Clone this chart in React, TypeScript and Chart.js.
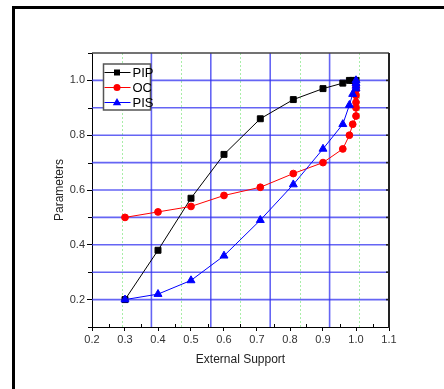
import React, { useEffect, useRef } from 'react';
import { Chart, registerables } from 'chart.js';
Chart.register(...registerables);

const seriesNames = ['PIP', 'OC', 'PIS'];
const seriesColors = ['#000000', '#ff0000', '#0000ff'];
const seriesStyles = ['rect', 'circle', 'triangle'];

const pipX = [0.3, 0.4, 0.5, 0.6, 0.71, 0.81, 0.9, 0.96, 0.98, 0.99, 1.0];
const pipY = [0.2, 0.38, 0.57, 0.73, 0.86, 0.93, 0.97, 0.99, 1.0, 1.0, 1.0];
const ocX = [0.3, 0.4, 0.5, 0.6, 0.71, 0.81, 0.9, 0.96, 0.98, 0.99, 1.0, 1.0, 1.0, 1.0, 1.0, 1.0];
const ocY = [0.5, 0.52, 0.54, 0.58, 0.61, 0.66, 0.7, 0.75, 0.8, 0.84, 0.87, 0.9, 0.92, 0.945, 0.965, 0.98];
const pisX = [0.3, 0.4, 0.5, 0.6, 0.71, 0.81, 0.9, 0.96, 0.98, 0.99, 1.0, 1.0, 1.0, 1.0];
const pisY = [0.2, 0.22, 0.27, 0.36, 0.49, 0.62, 0.75, 0.84, 0.91, 0.95, 0.97, 0.98, 0.99, 1.0];

const xTickValues = [0.2, 0.3, 0.4, 0.5, 0.6, 0.7, 0.8, 0.9, 1.0, 1.1];
const xTickLabels = ['0.2', '0.3', '0.4', '0.5', '0.6', '0.7', '0.8', '0.9', '1.0', '1.1'];
const xMinorTicks = [0.25, 0.35, 0.45, 0.55, 0.65, 0.75, 0.85, 0.95, 1.05];
const yTickValues = [0.2, 0.4, 0.6, 0.8, 1.0];
const yTickLabels = ['0.2', '0.4', '0.6', '0.8', '1.0'];
const yMinorTicks = [0.1, 0.3, 0.5, 0.7, 0.9, 1.1];

const xMajorGrid = [0.38, 0.56, 0.74, 0.92];
const xMinorGrid = [0.29, 0.47, 0.65, 0.83, 1.01];
const yGrid = [0.2, 0.3, 0.4, 0.5, 0.6, 0.7, 0.8, 0.9, 1.0];

const FONT = "'Liberation Sans', Arial, sans-serif";

const toPts = (xs: number[], ys: number[]) => xs.map((x, i) => ({ x, y: ys[i] }));

function drawMarker(ctx: CanvasRenderingContext2D, style: string, x: number, y: number, color: string) {
  ctx.save();
  ctx.fillStyle = color;
  ctx.beginPath();
  if (style === 'rect') {
    ctx.rect(x - 3, y - 3, 6, 6);
  } else if (style === 'circle') {
    ctx.arc(x, y, 3.5, 0, Math.PI * 2);
  } else {
    ctx.moveTo(x, y - 4.5);
    ctx.lineTo(x + 4.2, y + 2.8);
    ctx.lineTo(x - 4.2, y + 2.8);
    ctx.closePath();
  }
  ctx.fill();
  ctx.restore();
}

const decorPlugin = {
  id: 'decor',
  beforeDatasetsDraw(chart: any) {
    const ctx = chart.ctx as CanvasRenderingContext2D;
    const xs = chart.scales.x;
    const ys = chart.scales.y;
    const a = chart.chartArea;
    ctx.save();
    // minor vertical grid (green dotted)
    ctx.strokeStyle = '#a8eea8';
    ctx.lineWidth = 1;
    ctx.setLineDash([2, 2]);
    xMinorGrid.forEach((v) => {
      const px = Math.round(xs.getPixelForValue(v)) + 0.5;
      ctx.beginPath();
      ctx.moveTo(px, a.top);
      ctx.lineTo(px, a.bottom);
      ctx.stroke();
    });
    ctx.setLineDash([]);
    // major vertical grid
    ctx.strokeStyle = 'rgba(50,50,240,0.75)';
    ctx.lineWidth = 1.6;
    xMajorGrid.forEach((v) => {
      const px = xs.getPixelForValue(v);
      ctx.beginPath();
      ctx.moveTo(px, a.top);
      ctx.lineTo(px, a.bottom);
      ctx.stroke();
    });
    // horizontal grid
    yGrid.forEach((v) => {
      const py = ys.getPixelForValue(v);
      ctx.beginPath();
      ctx.moveTo(a.left, py);
      ctx.lineTo(a.right, py);
      ctx.stroke();
    });
    // top & right frame
    ctx.strokeStyle = '#444';
    ctx.lineWidth = 1.5;
    ctx.beginPath();
    ctx.moveTo(a.left, a.top);
    ctx.lineTo(a.right, a.top);
    ctx.stroke();
    ctx.strokeStyle = '#222';
    ctx.lineWidth = 2;
    ctx.beginPath();
    ctx.moveTo(a.right, a.top);
    ctx.lineTo(a.right, a.bottom + 1);
    ctx.stroke();
    // right inward ticks
    ctx.lineWidth = 1.5;
    yGrid.forEach((v) => {
      const py = ys.getPixelForValue(v);
      ctx.beginPath();
      ctx.moveTo(a.right - 3, py);
      ctx.lineTo(a.right, py);
      ctx.stroke();
    });
    // minor ticks
    ctx.strokeStyle = '#000';
    ctx.lineWidth = 1;
    xMinorTicks.forEach((v) => {
      const px = Math.round(xs.getPixelForValue(v)) + 0.5;
      ctx.beginPath();
      ctx.moveTo(px, a.bottom);
      ctx.lineTo(px, a.bottom - 3);
      ctx.stroke();
    });
    yMinorTicks.forEach((v) => {
      const py = Math.round(ys.getPixelForValue(v)) + 0.5;
      ctx.beginPath();
      ctx.moveTo(a.left, py);
      ctx.lineTo(a.left - 4, py);
      ctx.stroke();
    });
    ctx.restore();
  },
  afterDatasetsDraw(chart: any) {
    const ctx = chart.ctx as CanvasRenderingContext2D;
    const a = chart.chartArea;
    const bx = a.left + 11.5;
    const by = a.top + 11;
    const bw = 47;
    const bh = 46;
    ctx.save();
    ctx.fillStyle = '#fff';
    ctx.fillRect(bx, by, bw, bh);
    ctx.strokeStyle = '#555';
    ctx.lineWidth = 1.5;
    ctx.strokeRect(bx, by, bw, bh);
    seriesNames.forEach((name, i) => {
      const y = by + 8.5 + i * 15;
      ctx.strokeStyle = seriesColors[i];
      ctx.lineWidth = 1;
      ctx.beginPath();
      ctx.moveTo(bx + 1, y);
      ctx.lineTo(bx + 27, y);
      ctx.stroke();
      drawMarker(ctx, seriesStyles[i], bx + 13.5, y, seriesColors[i]);
      ctx.fillStyle = '#000';
      ctx.font = `13px ${FONT}`;
      ctx.textBaseline = 'middle';
      ctx.textAlign = 'left';
      ctx.fillText(name, bx + 29, y + 0.5);
    });
    ctx.restore();
  },
};

export default function App() {
  const ref = useRef<HTMLCanvasElement>(null);
  useEffect(() => {
    const mk = (i: number, data: any[], radius: number, order: number) => ({
      label: seriesNames[i],
      data,
      borderColor: seriesColors[i],
      backgroundColor: seriesColors[i],
      pointBackgroundColor: seriesColors[i],
      pointBorderColor: seriesColors[i],
      pointStyle: seriesStyles[i],
      pointRadius: radius,
      pointBorderWidth: 1,
      borderWidth: 1,
      showLine: true,
      tension: 0,
      order,
    });
    const chart = new Chart(ref.current!, {
      type: 'scatter',
      data: {
        datasets: [
          mk(0, toPts(pipX, pipY), 4.2, 2),
          mk(1, toPts(ocX, ocY), 3.4, 1),
          mk(2, toPts(pisX, pisY), 4.6, 0),
        ] as any,
      },
      options: {
        animation: false,
        responsive: false,
        events: [],
        layout: { padding: { left: 0, top: 53, right: 55, bottom: 0 } },
        plugins: { legend: { display: false }, tooltip: { enabled: false } },
        scales: {
          x: {
            type: 'linear',
            position: 'bottom',
            min: 0.2,
            max: 1.1,
            afterBuildTicks: (s: any) => {
              s.ticks = xTickValues.map((v) => ({ value: v }));
            },
            afterFit: (s: any) => {
              s.height = 62;
            },
            ticks: {
              callback: (_v: any, i: number) => xTickLabels[i],
              font: { family: FONT, size: 11 },
              color: '#333',
              padding: 2,
              maxRotation: 0,
              autoSkip: false,
            },
            grid: { drawOnChartArea: false, drawTicks: true, tickLength: 4, color: '#000' },
            border: { display: true, color: '#000', width: 1 },
            title: {
              display: true,
              text: 'External Support',
              font: { family: FONT, size: 12 },
              color: '#222',
              padding: { top: 0, bottom: 21.8 },
            },
          },
          y: {
            type: 'linear',
            position: 'left',
            min: 0.1,
            max: 1.1,
            afterBuildTicks: (s: any) => {
              s.ticks = yTickValues.map((v) => ({ value: v }));
            },
            afterFit: (s: any) => {
              s.width = 92;
            },
            ticks: {
              callback: (_v: any, i: number) => yTickLabels[i],
              font: { family: FONT, size: 11 },
              color: '#333',
              padding: 2,
              autoSkip: false,
            },
            grid: { drawOnChartArea: false, drawTicks: true, tickLength: 5, color: '#000' },
            border: { display: true, color: '#000', width: 1 },
            title: {
              display: true,
              text: 'Parameters',
              font: { family: FONT, size: 12 },
              color: '#222',
              padding: { top: 52.8, bottom: 0 },
            },
          },
        },
      } as any,
      plugins: [decorPlugin],
    });
    return () => chart.destroy();
  }, []);
  return (
    <div
      style={{
        position: 'fixed',
        left: 0,
        top: 0,
        width: 444,
        height: 389,
        overflow: 'hidden',
        background: '#fff',
      }}
    >
      <div
        style={{
          position: 'absolute',
          left: 12,
          top: 6,
          width: 700,
          height: 700,
          border: '3px solid #000',
          boxSizing: 'border-box',
        }}
      />
      <canvas
        ref={ref}
        width={444}
        height={389}
        style={{ position: 'absolute', left: 0, top: 0, width: 444, height: 389 }}
      />
    </div>
  );
}
